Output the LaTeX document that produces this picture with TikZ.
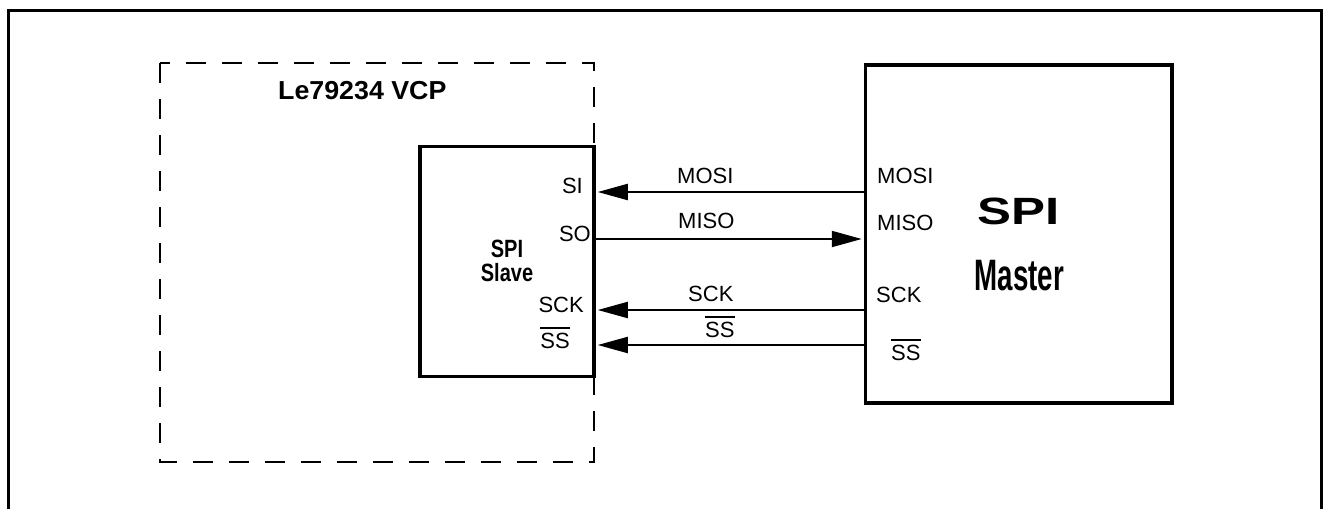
\documentclass[tikz,border=0pt]{standalone}
\usepackage{fontspec}
\setmainfont{Liberation Sans}
\usetikzlibrary{arrows.meta}
\newcommand\ovl[1]{\setbox0\hbox{#1}\rlap{\rule[\dimexpr\ht0+3.5pt\relax]{\wd0}{1.8pt}}\box0}
\begin{document}
\begin{tikzpicture}[x=1pt,y=-1pt,
  lbl/.style={inner sep=0pt, font=\fontsize{22}{22}\selectfont},
  boxstyle/.style={draw, line width=3.5pt, inner sep=0pt},
  sig/.style={line width=2pt, -{Triangle[length=30pt,width=16pt]}},
  frameline/.style={line width=3pt},
  vcpbox/.style={line width=2.5pt, dash pattern=on 20pt off 16pt}]
\useasboundingbox (0,0) rectangle (1323,509);
% outer frame
\draw[frameline] (8,509) -- (8,10) -- (1321.5,10) -- (1321.5,509);
% VCP dashed boundary
\draw[vcpbox] (160,63) rectangle (594,462);
\node[inner sep=0pt, anchor=base west, font=\bfseries\fontsize{26}{26}\selectfont] (vcp) at (278,99) {\scalebox{1.03}[1]{Le79234 VCP}};
% boxes
\node[boxstyle, minimum width=174pt, minimum height=230pt] (slave) at (507,261.5) {};
\node[boxstyle, minimum width=306.5pt, minimum height=338pt] (master) at (1018.75,234) {};
% box titles
\node[inner sep=0pt, anchor=base, font=\bfseries\fontsize{25}{25}\selectfont] (sspi) at (507,257) {\scalebox{0.8}[1]{SPI}};
\node[inner sep=0pt, anchor=base, font=\bfseries\fontsize{25}{25}\selectfont] (sslave) at (507,281) {\scalebox{0.8}[1]{Slave}};
\node[inner sep=0pt, anchor=base, font=\bfseries\fontsize{38}{38}\selectfont] (mspi) at (1019,224) {\scalebox{1.34}[1]{SPI}};
\node[inner sep=0pt, anchor=base, font=\bfseries\fontsize{44}{44}\selectfont] (mmaster) at (1019.5,290) {\scalebox{0.63}[1]{Master}};
% slave pins
\node[lbl, anchor=base east] (si) at (583,193) {SI};
\node[lbl, anchor=base east] (so) at (591,241) {SO};
\node[lbl, anchor=base east] (sck) at (584,312) {SCK};
\node[lbl, anchor=base east] (ss) at (570,348) {\ovl{SS}};
% master pins
\node[lbl, anchor=base west] (mosi) at (877,183) {MOSI};
\node[lbl, anchor=base west] (miso) at (877,230) {MISO};
\node[lbl, anchor=base west] (msck) at (876,302) {SCK};
\node[lbl, anchor=base west] (mss) at (891,360) {\ovl{SS}};
% signal lines
\draw[sig] (master.west |- 0,192) -- ([xshift=2pt]slave.east |- 0,192);
\draw[sig] (slave.east |- 0,239) -- ([xshift=-2pt]master.west |- 0,239);
\draw[sig] (master.west |- 0,310) -- ([xshift=2pt]slave.east |- 0,310);
\draw[sig] (master.west |- 0,345) -- ([xshift=2pt]slave.east |- 0,345);
% line labels
\node[lbl, anchor=base west] (lmosi) at (677,183) {MOSI};
\node[lbl, anchor=base west] (lmiso) at (678,228) {MISO};
\node[lbl, anchor=base west] (lsck) at (688,301) {SCK};
\node[lbl, anchor=base west] (lss) at (705,337) {\ovl{SS}};
\end{tikzpicture}
\end{document}
